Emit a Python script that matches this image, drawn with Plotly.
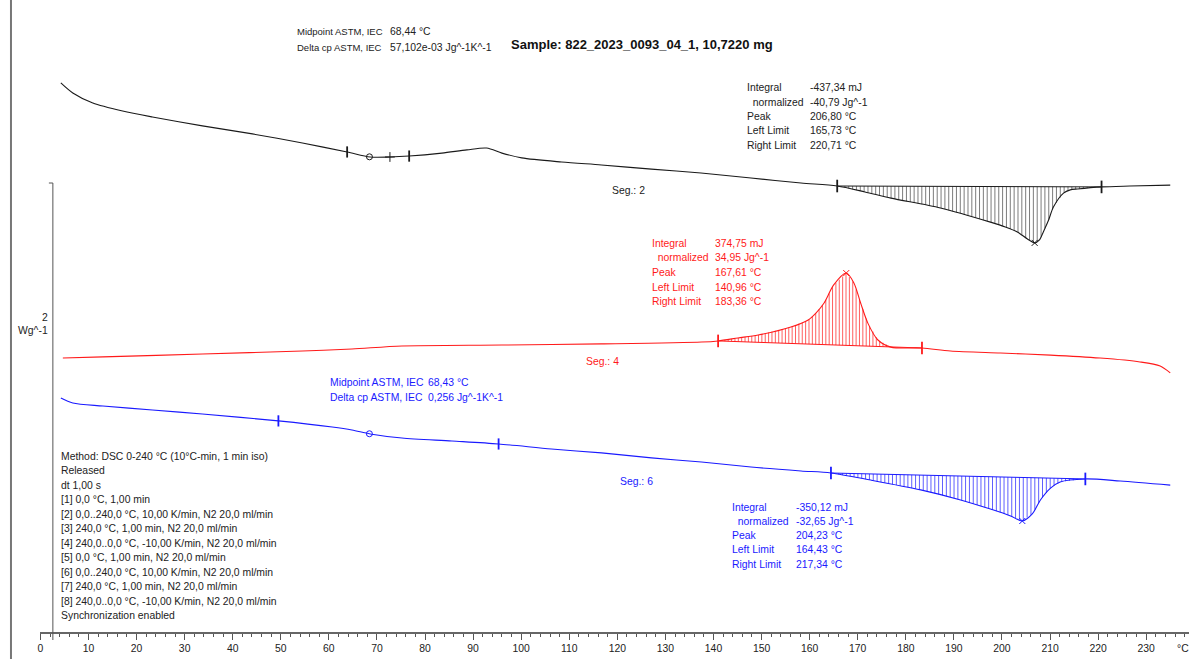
import numpy as np
import plotly.graph_objects as go

# ---------------- data (T in °C, heat flow in W/g, arbitrary offset per segment) -------------
seg2_T = [4.25, 6.74, 10.9, 17.1, 23.3, 33.7, 44.1, 54.5, 63.8, 68.6, 72.7, 76.7, 83.5, 88.7,
          92.8, 96.0, 100.1, 108.4, 116.7, 127.1, 137.4, 147.8, 158.2, 165.73, 171.5, 176.9,
          187.2, 197.6, 200.7, 203.2, 205.3, 206.8, 207.8, 208.6, 209.7, 210.7, 212.8, 214.2,
          215.7, 220.71, 226.6, 235.0]
seg2_H = [2.521, 2.477, 2.433, 2.398, 2.372, 2.333, 2.298, 2.258, 2.219, 2.197, 2.197, 2.201,
          2.214, 2.228, 2.236, 2.214, 2.193, 2.175, 2.162, 2.144, 2.127, 2.105, 2.083, 2.070,
          2.044, 2.017, 1.974, 1.912, 1.891, 1.869, 1.838, 1.821, 1.834, 1.869, 1.921, 1.978,
          2.039, 2.053, 2.057, 2.066, 2.070, 2.074]

seg4_T = [4.67, 13.0, 33.7, 54.5, 64.8, 75.2, 96.0, 116.7, 137.5, 140.96, 145.1, 149.3, 156.1,
          159.7, 161.3, 163.0, 165.0, 167.61, 169.2, 170.6, 172.1, 174.2, 176.9, 183.36, 189.3,
          199.7, 210.1, 220.4, 228.7, 232.9, 235.0]
seg4_H = [1.317, 1.322, 1.335, 1.348, 1.357, 1.370, 1.374, 1.379, 1.387, 1.392, 1.405, 1.418,
          1.453, 1.484, 1.514, 1.558, 1.637, 1.689, 1.646, 1.558, 1.470, 1.396, 1.365, 1.361,
          1.348, 1.339, 1.330, 1.317, 1.300, 1.282, 1.252]

seg6_T = [4.25, 6.74, 13.0, 23.3, 33.7, 49.5, 60.7, 64.8, 68.6, 75.2, 85.6, 95.3, 106.3, 116.7,
          127.1, 137.5, 147.8, 158.2, 164.43, 172.7, 183.1, 191.4, 197.6, 201.8, 204.23, 206.3,
          208.0, 210.1, 212.1, 217.34, 224.6, 235.0]
seg6_H = [1.142, 1.120, 1.107, 1.090, 1.072, 1.042, 1.015, 1.002, 0.985, 0.967, 0.954, 0.941,
          0.919, 0.902, 0.880, 0.862, 0.840, 0.823, 0.814, 0.783, 0.740, 0.696, 0.656, 0.626,
          0.604, 0.635, 0.696, 0.748, 0.775, 0.788, 0.779, 0.761]

# evaluation limits / peaks (°C)
seg2_limits = [165.73, 220.71]; seg2_peak = 206.80
seg4_limits = [140.96, 183.36]; seg4_peak = 167.61
seg6_limits = [164.43, 217.34]; seg6_peak = 204.23
seg2_tg = [63.8, 68.44, 72.7, 76.7]
seg6_tg = [49.5, 68.43, 95.3]

x_ticks = list(range(0, 240, 10))

method_lines = [
    "Method: DSC 0-240 °C (10°C-min, 1 min iso)",
    "Released",
    "dt 1,00 s",
    "[1] 0,0 °C, 1,00 min",
    "[2] 0,0..240,0 °C, 10,00 K/min, N2 20,0 ml/min",
    "[3] 240,0 °C, 1,00 min, N2 20,0 ml/min",
    "[4] 240,0..0,0 °C, -10,00 K/min, N2 20,0 ml/min",
    "[5] 0,0 °C, 1,00 min, N2 20,0 ml/min",
    "[6] 0,0..240,0 °C, 10,00 K/min, N2 20,0 ml/min",
    "[7] 240,0 °C, 1,00 min, N2 20,0 ml/min",
    "[8] 240,0..0,0 °C, -10,00 K/min, N2 20,0 ml/min",
    "Synchronization enabled",
]
box2 = [("Integral", "-437,34 mJ"), ("  normalized", "-40,79 Jg^-1"), ("Peak", "206,80 °C"),
        ("Left Limit", "165,73 °C"), ("Right Limit", "220,71 °C")]
box4 = [("Integral", "374,75 mJ"), ("  normalized", "34,95 Jg^-1"), ("Peak", "167,61 °C"),
        ("Left Limit", "140,96 °C"), ("Right Limit", "183,36 °C")]
box6 = [("Integral", "-350,12 mJ"), ("  normalized", "-32,65 Jg^-1"), ("Peak", "204,23 °C"),
        ("Left Limit", "164,43 °C"), ("Right Limit", "217,34 °C")]

# ---------------- figure ----------------
W, H = 1189, 659
FONT = "Liberation Sans, Arial, sans-serif"
FS = 10.4
BLACK, RED, BLUE = "#1a1a1a", "#ff1a1a", "#1a1aff"

fig = go.Figure()


def interp(T, Hh, t):
    return float(np.interp(t, T, Hh))


def add_segment(T, Hh, limits, peak, color, hatch_color, step):
    l, r = limits
    yl, yr = interp(T, Hh, l), interp(T, Hh, r)
    hx, hy = [], []
    for t in np.arange(l + step, r, step):
        base = yl + (yr - yl) * (t - l) / (r - l)
        hx += [t, t, None]
        hy += [base, interp(T, Hh, t), None]
    fig.add_trace(go.Scatter(x=hx, y=hy, mode="lines", line=dict(color=hatch_color, width=0.7),
                             hoverinfo="skip", showlegend=False))
    fig.add_trace(go.Scatter(x=[l, r], y=[yl, yr], mode="lines", line=dict(color=color, width=1),
                             hoverinfo="skip", showlegend=False))
    fig.add_trace(go.Scatter(x=T, y=Hh, mode="lines", line=dict(color=color, width=1.1, shape="spline",
                                                                smoothing=0.8),
                             hoverinfo="skip", showlegend=False))
    fig.add_trace(go.Scatter(x=[l, r], y=[yl, yr], mode="markers",
                             marker=dict(symbol="line-ns", size=9, color=color,
                                         line=dict(color=color, width=1.8)),
                             hoverinfo="skip", showlegend=False))
    fig.add_trace(go.Scatter(x=[peak], y=[interp(T, Hh, peak)], mode="markers",
                             marker=dict(symbol="x-thin", size=6, color=color, line=dict(color=color, width=1)),
                             hoverinfo="skip", showlegend=False))


add_segment(seg2_T, seg2_H, seg2_limits, seg2_peak, BLACK, "#444444", 0.8)
add_segment(seg4_T, seg4_H, seg4_limits, seg4_peak, RED, RED, 0.7)
add_segment(seg6_T, seg6_H, seg6_limits, seg6_peak, BLUE, BLUE, 0.8)

# glass transition markers
for T, Hh, tg, color in [(seg2_T, seg2_H, seg2_tg, BLACK), (seg6_T, seg6_H, seg6_tg, BLUE)]:
    lims = [tg[0], tg[-1]]
    fig.add_trace(go.Scatter(x=lims, y=[interp(T, Hh, t) for t in lims], mode="markers",
                             marker=dict(symbol="line-ns", size=8, color=color, line=dict(color=color, width=1.8)),
                             hoverinfo="skip", showlegend=False))
    fig.add_trace(go.Scatter(x=[tg[1]], y=[interp(T, Hh, tg[1])], mode="markers",
                             marker=dict(symbol="circle-open", size=6, color=color, line=dict(color=color, width=1)),
                             hoverinfo="skip", showlegend=False))
    if len(tg) == 4:
        fig.add_trace(go.Scatter(x=[tg[2]], y=[interp(T, Hh, tg[2])], mode="markers",
                                 marker=dict(symbol="cross-thin", size=7, color=color,
                                             line=dict(color=color, width=1)),
                                 hoverinfo="skip", showlegend=False))

annotations = []


def txt(x, y, s, color="#222", size=FS, anchor="left"):
    annotations.append(dict(x=x / W, y=1 - y / H, xref="paper", yref="paper", text=s,
                            showarrow=False, xanchor=anchor, yanchor="middle", borderpad=0,
                            font=dict(family=FONT, size=size, color=color)))


txt(294, 32, "Midpoint ASTM, IEC", size=9.5); txt(387, 32, "68,44 °C")
txt(294, 47, "Delta cp ASTM, IEC", size=9.5); txt(387, 47, "57,102e-03 Jg^-1K^-1")
annotations.append(dict(x=508 / W, y=1 - 44 / H, xref="paper", yref="paper",
                        text="<b>Sample: 822_2023_0093_04_1, 10,7220 mg</b>", showarrow=False,
                        xanchor="left", yanchor="middle", borderpad=0,
                        font=dict(family=FONT, size=13, color="#111")))

for i, (a, b) in enumerate(box2):
    txt(745, 88 + i * 14.3, a.replace("  ", "&nbsp;&nbsp;")); txt(808, 88 + i * 14.3, b)
for i, (a, b) in enumerate(box4):
    txt(650, 243 + i * 14.7, a.replace("  ", "&nbsp;&nbsp;"), RED); txt(713, 243 + i * 14.7, b, RED)
for i, (a, b) in enumerate(box6):
    txt(730, 507 + i * 14.3, a.replace("  ", "&nbsp;&nbsp;"), BLUE); txt(794, 507 + i * 14.3, b, BLUE)

txt(610, 190, "Seg.: 2")
txt(583, 362, "Seg.: 4", RED)
txt(618, 481, "Seg.: 6", BLUE)

txt(327, 382, "Midpoint ASTM, IEC", BLUE); txt(425, 382, "68,43 °C", BLUE)
txt(327, 397, "Delta cp ASTM, IEC", BLUE); txt(425, 397, "0,256 Jg^-1K^-1", BLUE)

for i, s in enumerate(method_lines):
    txt(57, 456 + i * 14.5, s)

txt(46, 317, "2", anchor="right")
txt(46, 330, "Wg^-1", anchor="right")
txt(1176, 648, "°C")

shapes = [
    dict(type="line", xref="paper", yref="paper", x0=8 / W, x1=8 / W, y0=0, y1=1,
         line=dict(color="#777", width=2)),
    dict(type="line", xref="paper", yref="paper", x0=50 / W, x1=50 / W, y0=1 - 183 / H, y1=1 - 640 / H,
         line=dict(color="#555", width=1)),
    dict(type="line", xref="paper", yref="paper", x0=46 / W, x1=50 / W, y0=1 - 183 / H, y1=1 - 183 / H,
         line=dict(color="#555", width=1)),
]

T_LEFT_PX, PX_PER_DEG = 37.5, 4.82
fig.update_layout(
    width=W, height=H, margin=dict(l=0, r=0, t=0, b=0),
    paper_bgcolor="white", plot_bgcolor="white",
    annotations=annotations, shapes=shapes,
    xaxis=dict(domain=[T_LEFT_PX / W, 1], range=[0, (W - T_LEFT_PX) / PX_PER_DEG],
               tickvals=x_ticks, ticktext=[str(t) for t in x_ticks],
               ticks="outside", ticklen=6, tickcolor="#555", tickwidth=1,
               minor=dict(dtick=2, ticks="outside", ticklen=3, tickcolor="#555"),
               showline=True, linecolor="#666", linewidth=2, showgrid=False, zeroline=False,
               tickfont=dict(family=FONT, size=FS, color="#222")),
    yaxis=dict(domain=[27 / H, 1], range=[27 / 228.5, H / 228.5], visible=False, showgrid=False),
)

fig.write_html("out.html")
